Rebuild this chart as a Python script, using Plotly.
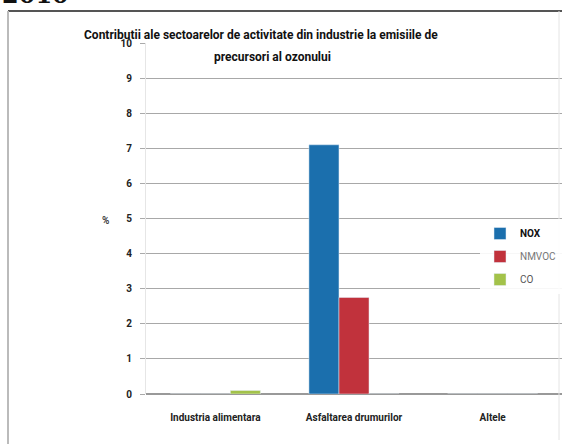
import plotly.graph_objects as go

categories = ["Industria alimentara", "Asfaltarea drumurilor", "Altele"]
nox = [0, 7.1, 0]
nmvoc = [0, 2.75, 0]
co = [0.1, 0, 0]
y_ticks = [0, 1, 2, 3, 4, 5, 6, 7, 8, 9, 10]

W, H = 562, 444
L, R, T, B = 146, 0, 43, 50
pw, ph = W - L - R, H - T - B

def px(x):
    return (x - L) / pw

def py(y):
    return (H - B - y) / ph

FONT = "Roboto, sans-serif"

fig = go.Figure()
fig.add_bar(name="<b>NOX</b>", x=categories, y=nox, marker_color="#1b6fad", legendgroup="a")
fig.add_bar(name="<span style='color:#777'>NMVOC</span>", x=categories, y=nmvoc,
            marker_color="#c1323c", legendgroup="b")
fig.add_bar(name="<span style='color:#555'>CO</span>", x=categories, y=co,
            marker_color="#a3c24a", legendgroup="c")

fig.update_layout(
    width=W, height=H,
    margin=dict(l=L, r=R, t=T, b=B, pad=0),
    paper_bgcolor="white", plot_bgcolor="white",
    barmode="group", bargap=0.35, bargroupgap=0,
    font=dict(family=FONT, size=10, color="#222"),
    showlegend=True,
    legend=dict(x=1, y=py(219), xanchor="right", yanchor="top",
                bgcolor="rgba(255,255,255,0.9)", font=dict(size=10, color="#111"),
                itemwidth=30, tracegroupgap=4, traceorder="grouped"),
    xaxis=dict(showgrid=False, showline=False, ticks="",
               tickfont=dict(size=10, color="#222", weight="bold"),
               ticklabelstandoff=16, range=[-0.5, 2.5]),
    yaxis=dict(range=[0, 10], tickvals=y_ticks, showgrid=True, gridcolor="#a8a8a8", gridwidth=1,
               zeroline=True, zerolinecolor="#999", showline=True, linecolor="#e6e6e6",
               ticks="outside", ticklen=5, tickcolor="#aaa",
               tickfont=dict(size=10, color="#222", weight="bold"), ticklabelstandoff=6),
    annotations=[
        dict(text="<b>Contributii ale sectoarelor de activitate din industrie la emisiile de</b>",
             xref="paper", yref="paper", x=px(261), y=py(35), xanchor="center", yanchor="middle",
             showarrow=False, font=dict(size=12, color="#111", family=FONT)),
        dict(text="<b>precursori al ozonului</b>",
             xref="paper", yref="paper", x=px(272), y=py(57), xanchor="center", yanchor="middle",
             showarrow=False, font=dict(size=12, color="#111", family=FONT)),
        dict(text="<b>%</b>", xref="paper", yref="paper", x=px(105), y=py(220),
             xanchor="center", yanchor="middle", showarrow=False, font=dict(size=10, color="#444")),
        dict(text="<b>2010</b>", xref="paper", yref="paper", x=px(0), y=py(11),
             xanchor="left", yanchor="bottom", showarrow=False,
             font=dict(size=24, color="#111", family="DejaVu Serif, serif")),
    ],
    shapes=[
        dict(type="line", xref="paper", yref="paper", x0=px(8), x1=px(562), y0=py(11), y1=py(11),
             line=dict(color="#555", width=2)),
        dict(type="line", xref="paper", yref="paper", x0=px(8), x1=px(8), y0=py(11), y1=py(444),
             line=dict(color="#bbb", width=2)),
        dict(type="line", xref="paper", yref="paper", x0=px(559), x1=px(559), y0=py(11), y1=py(440),
             line=dict(color="#e4e4e4", width=1)),
    ],
)

fig.write_html("out.html", config={"displayModeBar": False},
               post_script="document.body.style.margin='0';document.body.style.overflow='hidden';")
